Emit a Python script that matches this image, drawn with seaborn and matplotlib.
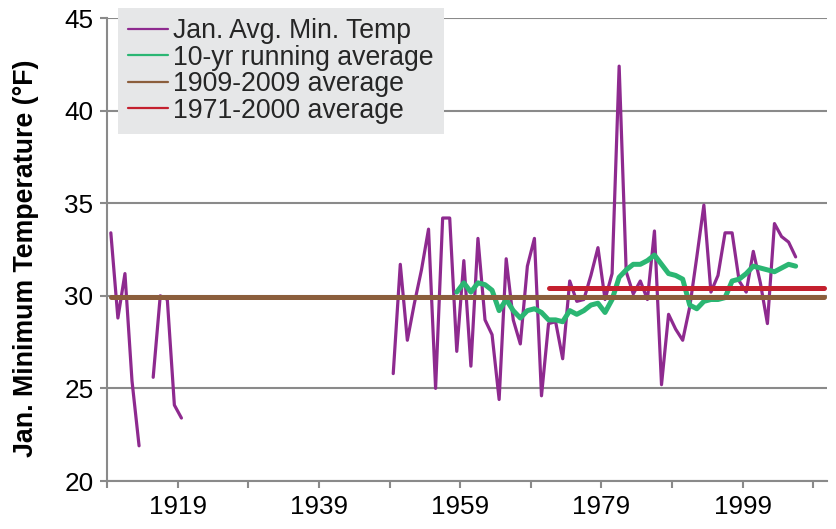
import numpy as np
import pandas as pd
import matplotlib
matplotlib.use("Agg")
import matplotlib.pyplot as plt
import seaborn as sns
from matplotlib.lines import Line2D

# ---------------- data ----------------
temp_years = ([1909, 1910, 1911, 1912, 1913] +
              [1915, 1916, 1917, 1918, 1919] +
              list(range(1949, 2007)))
temp_segment = [0] * 5 + [1] * 5 + [2] * 58
temp_values = [33.4, 28.8, 31.2, 25.4, 21.9,
               25.6, 30.0, 29.8, 24.1, 23.4,
               25.8, 31.7, 27.6, 29.6, 31.4, 33.6, 25.0, 34.2, 34.2, 27.0,   # 1949-1958
               31.9, 26.2, 33.1, 28.7, 27.9, 24.4, 32.0, 28.7, 27.4, 31.6,   # 1959-1968
               33.1, 24.6, 28.5, 28.6, 26.6, 30.8, 29.7, 29.8, 31.1, 32.6,   # 1969-1978
               29.8, 31.2, 42.4, 31.3, 30.1, 30.8, 29.8, 33.5, 25.2, 29.0,   # 1979-1988
               28.2, 27.6, 29.4, 32.1, 34.9, 30.2, 31.1, 33.4, 33.4, 30.8,   # 1989-1998
               30.2, 32.4, 30.7, 28.5, 33.9, 33.2, 32.9, 32.1]               # 1999-2006

run_years = list(range(1958, 2007))
run_values = [30.2, 30.7, 30.2, 30.7, 30.6, 30.3, 29.2, 29.8, 29.2, 28.8,   # 1958-1967
              29.2, 29.3, 29.1, 28.7, 28.7, 28.6, 29.2, 29.0, 29.2, 29.5,   # 1968-1977
              29.6, 29.1, 29.8, 31.0, 31.4, 31.7, 31.7, 31.9, 32.2, 31.7,   # 1978-1987
              31.2, 31.1, 30.9, 29.5, 29.3, 29.7, 29.8, 29.8, 29.9, 30.8,   # 1988-1997
              30.9, 31.2, 31.6, 31.5, 31.4, 31.3, 31.5, 31.7, 31.6]         # 1998-2006

long_avg_years = [1909, 2010]
long_avg_values = [29.95, 29.95]
norm_avg_years = [1971, 2010]
norm_avg_values = [30.42, 30.42]

series_labels = ["Jan. Avg. Min. Temp", "10-yr running average",
                 "1909-2009 average", "1971-2000 average"]
series_colors = ["#8E2A8F", "#2BB673", "#8B5E3C", "#C4202E"]

ytick_values = [20, 25, 30, 35, 40, 45]
xtick_label_years = [1919, 1939, 1959, 1979, 1999]

# ---------------- figure ----------------
sns.set_theme(style="white")
plt.rcParams["font.family"] = ["Liberation Sans", "DejaVu Sans"]

W, H = 837, 529
fig = plt.figure(figsize=(W / 100, H / 100), dpi=100)
ax_l, ax_r, ax_t, ax_b = 107.3, 827.0, 18.0, 481.0
ax = fig.add_axes([ax_l / W, 1 - ax_b / H, (ax_r - ax_l) / W, (ax_b - ax_t) / H])

grid_col = "#8a8a8a"

df_temp = pd.DataFrame({"year": temp_years, "val": temp_values, "seg": temp_segment})
df_run = pd.DataFrame({"year": run_years, "val": run_values})
df_long = pd.DataFrame({"year": long_avg_years, "val": long_avg_values})
df_norm = pd.DataFrame({"year": norm_avg_years, "val": norm_avg_values})

sns.lineplot(data=df_temp, x="year", y="val", units="seg", estimator=None,
             color=series_colors[0], linewidth=2.3, ax=ax, zorder=3,
             solid_capstyle="round", solid_joinstyle="round", legend=False)
sns.lineplot(data=df_run, x="year", y="val", estimator=None,
             color=series_colors[1], linewidth=3.6, ax=ax, zorder=4,
             solid_capstyle="round", solid_joinstyle="round", legend=False)
sns.lineplot(data=df_long, x="year", y="val", estimator=None,
             color=series_colors[2], linewidth=3.6, ax=ax, zorder=5,
             solid_capstyle="round", legend=False)
sns.lineplot(data=df_norm, x="year", y="val", estimator=None,
             color=series_colors[3], linewidth=3.6, ax=ax, zorder=6,
             solid_capstyle="round", legend=False)

# axes
ax.set_xlim(1908.5, 1908.5 + (ax_r - ax_l) / 7.06)
ax.set_ylim(20, 45)
ax.set_yticks(ytick_values)
ax.set_yticklabels([str(v) for v in ytick_values])
xt = [1908.5 + 10 * k for k in range(11)]
ax.set_xticks(xt)
ax.set_xticklabels([str(int(t + 0.5)) if int(t + 0.5) in xtick_label_years else "" for t in xt])
ax.set_xlabel("")
ax.set_ylabel("")

ax.yaxis.grid(True, color=grid_col, linewidth=1.5, zorder=0)
ax.xaxis.grid(False)
ax.set_axisbelow(True)
for s in ["top", "right"]:
    ax.spines[s].set_visible(False)
for s in ["left", "bottom"]:
    ax.spines[s].set_color(grid_col)
    ax.spines[s].set_linewidth(1.5)
ax.tick_params(axis="both", which="major", direction="out", length=5, width=1.5,
               color=grid_col, labelsize=18.8, labelcolor="black", pad=5,
               left=True, bottom=True)
ax.set_facecolor("white")

fig.text(26 / W, 1 - 258 / H, "Jan. Minimum Temperature (°F)", rotation=90,
         ha="center", va="center", fontsize=19.3, fontweight="bold", color="black")

# legend
handles = [Line2D([0], [0], color=c, linewidth=1.6) for c in series_colors]
leg = fig.legend(handles, series_labels, loc="upper left",
                 bbox_to_anchor=(118 / W, 1 - 8 / H), bbox_transform=fig.transFigure,
                 borderaxespad=0, frameon=True, fancybox=False, framealpha=1,
                 facecolor="#E6E7E8", edgecolor="none", fontsize=19.2,
                 handlelength=1.5, handletextpad=0.2, labelspacing=0.02,
                 borderpad=0.38)
leg.set_zorder(10)

fig.savefig("out.png", dpi=100, facecolor="white")
